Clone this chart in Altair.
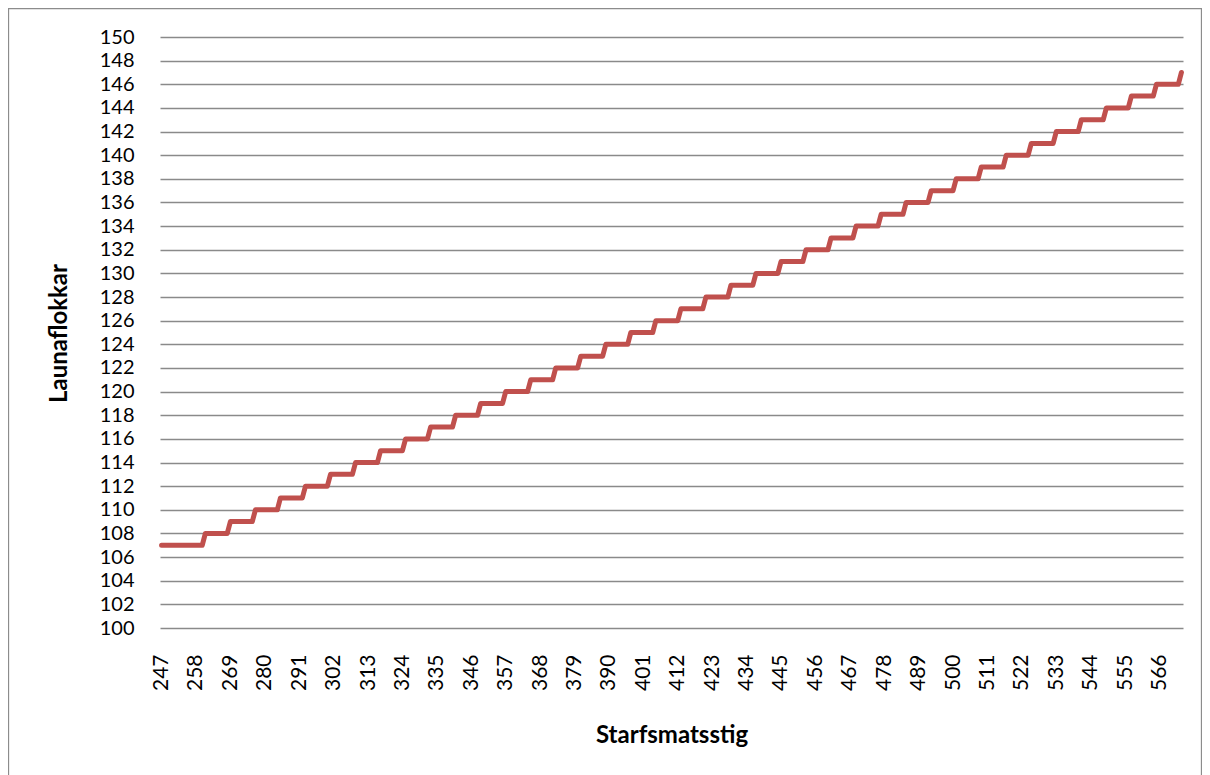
import altair as alt
import pandas as pd

# Starfsmatsstig (job evaluation points), one category per point
stig = list(range(247, 574))

# Launaflokkar (salary grade), one per category
flokkar = (
    [107] * 14
    + [108] * 8 + [109] * 8 + [110] * 8 + [111] * 8 + [112] * 8
    + [113] * 8 + [114] * 8 + [115] * 8 + [116] * 8 + [117] * 8
    + [118] * 8 + [119] * 8 + [120] * 8 + [121] * 8 + [122] * 8
    + [123] * 8 + [124] * 8 + [125] * 8 + [126] * 8 + [127] * 8
    + [128] * 8 + [129] * 8 + [130] * 8 + [131] * 8 + [132] * 8
    + [133] * 8 + [134] * 8 + [135] * 8 + [136] * 8 + [137] * 8
    + [138] * 8 + [139] * 8 + [140] * 8 + [141] * 8 + [142] * 8
    + [143] * 8 + [144] * 8 + [145] * 8 + [146] * 8
    + [147]
)

x_ticks = [247, 258, 269, 280, 291, 302, 313, 324, 335, 346, 357, 368, 379, 390,
           401, 412, 423, 434, 445, 456, 467, 478, 489, 500, 511, 522, 533, 544,
           555, 566]
y_ticks = list(range(100, 151, 2))

df = pd.DataFrame({"Starfsmatsstig": stig, "Launaflokkar": flokkar})

W, H = 1023, 591
FONT = "Lato"

line = alt.Chart(df).mark_line(
    color="#C0504D", strokeWidth=5, strokeCap="round", strokeJoin="round"
).encode(
    x=alt.X(
        "Starfsmatsstig:Q",
        scale=alt.Scale(domain=[246.5, 573.5], nice=False, zero=False),
        axis=alt.Axis(
            values=x_ticks, labelAngle=-90, grid=False, domain=False, ticks=False,
            labelPadding=26, labelFontSize=21, labelFont=FONT, labelColor="#000000",
            title="Starfsmatsstig", titleFont=FONT, titleFontSize=24,
            titleFontWeight="bold", titleColor="#000000",
            titleY=107, titleBaseline="middle",
            format="d",
        ),
    ),
    y=alt.Y(
        "Launaflokkar:Q",
        scale=alt.Scale(domain=[100, 150], nice=False, zero=False),
        axis=alt.Axis(
            values=y_ticks, grid=True, gridColor="#8A8A8A", gridWidth=1.3,
            domain=False, ticks=False,
            labelPadding=26, labelFontSize=20, labelFont=FONT, labelColor="#000000",
            title="Launaflokkar", titleFont=FONT, titleFontSize=24,
            titleFontWeight="bold", titleColor="#000000",
            titleX=-101, titleY=296, titleAngle=-90,
            titleAlign="center", titleBaseline="middle",
        ),
    ),
)

frame = alt.Chart(pd.DataFrame({"f": [0]})).mark_rect(
    fill=None, stroke="#8C8C8C", strokeWidth=1.3
).encode(
    x=alt.value(-151.5), x2=alt.value(W + 18.5),
    y=alt.value(-28.5), y2=alt.value(H + 300),
)

chart = alt.layer(frame, line).properties(
    width=W, height=H,
    autosize="none",
    padding={"left": 152, "top": 29, "right": 19, "bottom": 152},
    background="#FFFFFF",
).configure_view(stroke=None)

chart.save("out.html", embed_options={"renderer": "svg", "actions": False})
